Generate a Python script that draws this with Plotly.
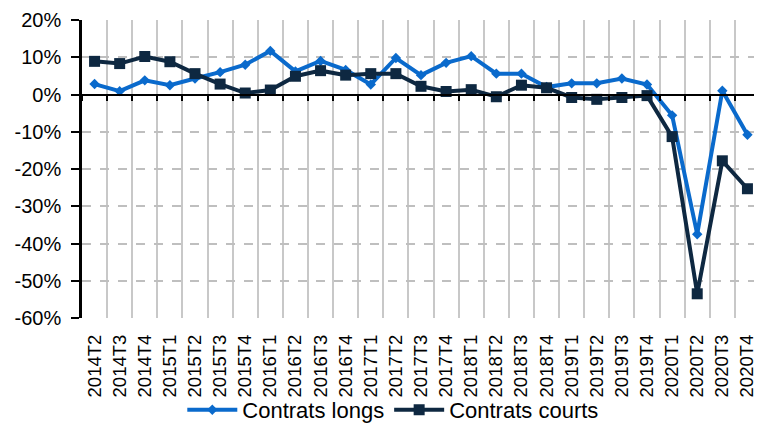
import plotly.graph_objects as go

categories = ['2014T2', '2014T3', '2014T4', '2015T1', '2015T2', '2015T3', '2015T4',
              '2016T1', '2016T2', '2016T3', '2016T4', '2017T1', '2017T2', '2017T3',
              '2017T4', '2018T1', '2018T2', '2018T3', '2018T4', '2019T1', '2019T2',
              '2019T3', '2019T4', '2020T1', '2020T2', '2020T3', '2020T4']

contrats_longs = [2.8, 0.9, 3.8, 2.5, 4.3, 6.0, 8.0, 11.7, 6.2, 9.0, 6.6, 2.7, 9.8,
                  5.2, 8.5, 10.3, 5.6, 5.6, 2.0, 3.0, 3.0, 4.3, 2.7, -5.6, -37.5, 1.0, -10.8]

contrats_courts = [8.9, 8.3, 10.2, 8.8, 5.6, 2.8, 0.4, 1.2, 4.9, 6.4, 5.2, 5.6, 5.6,
                   2.2, 0.8, 1.3, -0.6, 2.5, 1.8, -0.8, -1.3, -0.8, -0.3, -11.3, -53.5, -17.8, -25.3]

y_ticks = [-60, -50, -40, -30, -20, -10, 0, 10, 20]
y_tick_labels = [f'{v}%' for v in y_ticks]

BLUE = '#0A6ACC'
NAVY = '#0E2841'
FONT = 'Liberation Sans, Arial, sans-serif'

fig = go.Figure()
fig.add_trace(go.Scatter(
    x=categories, y=contrats_longs, name='Contrats longs', mode='lines+markers',
    line=dict(color=BLUE, width=4),
    marker=dict(symbol='diamond', size=8, color=BLUE),
))
fig.add_trace(go.Scatter(
    x=categories, y=contrats_courts, name='Contrats courts', mode='lines+markers',
    line=dict(color=NAVY, width=4),
    marker=dict(symbol='square', size=11, color=NAVY),
))
# invisible trace to drive the zero-line axis with boundary ticks
fig.add_trace(go.Scatter(
    x=categories, y=contrats_courts, xaxis='x2', mode='lines',
    line=dict(color='rgba(0,0,0,0)', width=0), showlegend=False, hoverinfo='skip',
))

# page body has an 8px margin, so the figure is sized to fill the remaining window
fig.update_layout(
    width=754, height=417,
    margin=dict(l=74, r=2, t=12, b=107, autoexpand=False),
    paper_bgcolor='white', plot_bgcolor='white',
    font=dict(family=FONT, color='black'),
    showlegend=True,
    legend=dict(orientation='h', xref='container', yref='container',
                x=0.511, xanchor='center', y=0.036, yanchor='middle',
                font=dict(size=22, family=FONT, color='black'), itemwidth=50,
                bgcolor='rgba(0,0,0,0)'),
    xaxis=dict(
        type='category', categoryorder='array', categoryarray=categories,
        range=[-0.5, len(categories) - 0.5], automargin=False,
        tickson='boundaries', showgrid=True, gridcolor='#C8C8C8', gridwidth=2,
        ticks='', showline=False, zeroline=False,
        tickangle=-90, tickfont=dict(size=18.5, family=FONT, color='black'),
        ticklabelstandoff=12, ticklabeloverflow='allow',
    ),
    xaxis2=dict(
        type='category', categoryorder='array', categoryarray=categories,
        range=[-0.5, len(categories) - 0.5], overlaying='x', anchor='free', position=0.75,
        tickson='boundaries', ticks='outside', ticklen=5, tickwidth=2, tickcolor='black',
        showline=True, linecolor='black', linewidth=2, showticklabels=False,
        showgrid=False, zeroline=False, automargin=False,
    ),
    yaxis=dict(
        range=[-60, 20], tickvals=y_ticks, ticktext=y_tick_labels, automargin=False,
        showgrid=True, gridcolor='#BFBFBF', gridwidth=1.5, griddash='dash',
        zeroline=False, showline=True, linecolor='black', linewidth=2.5,
        ticks='outside', ticklen=8, tickwidth=2, tickcolor='black',
        tickfont=dict(size=20, family=FONT, color='black'),
        ticklabelstandoff=6, ticklabeloverflow='allow',
    ),
)

fig.write_html('out.html')
